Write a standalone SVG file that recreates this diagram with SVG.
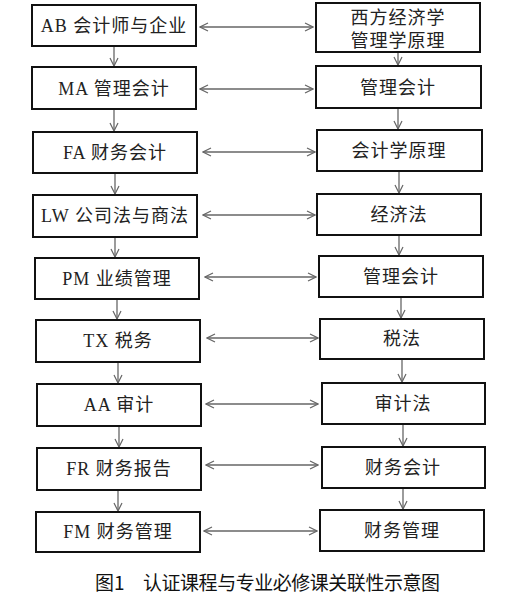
<svg xmlns="http://www.w3.org/2000/svg" width="516" height="601" viewBox="0 0 516 601">
<style>
.box{fill:#fff;stroke:#111;stroke-width:2}
.t{font-family:"Liberation Serif","Noto Sans CJK SC",serif;font-size:18px;letter-spacing:1px;fill:#222;text-anchor:middle}
.c{stroke:#666;stroke-width:1.3;fill:none}
.cap{font-family:"Noto Sans CJK SC",sans-serif;font-size:19px;fill:#111;font-weight:normal}
</style>
<defs>
<marker id="ah" viewBox="0 0 10 10" refX="9" refY="5" markerWidth="10" markerHeight="10" markerUnits="userSpaceOnUse" orient="auto-start-reverse">
<path d="M1,1 L9,5 L1,9" fill="none" stroke="#666" stroke-width="1.2"/>
</marker>
</defs>
<rect width="516" height="601" fill="#fff"/>
<g id="connectors">
<line class="c" x1="200" y1="27" x2="313" y2="27" marker-start="url(#ah)" marker-end="url(#ah)"/>
<line class="c" x1="200" y1="89" x2="313" y2="89" marker-start="url(#ah)" marker-end="url(#ah)"/>
<line class="c" x1="203" y1="152" x2="315" y2="152" marker-start="url(#ah)" marker-end="url(#ah)"/>
<line class="c" x1="203" y1="215" x2="315" y2="215" marker-start="url(#ah)" marker-end="url(#ah)"/>
<line class="c" x1="205" y1="277" x2="316" y2="277" marker-start="url(#ah)" marker-end="url(#ah)"/>
<line class="c" x1="207" y1="338" x2="318" y2="338" marker-start="url(#ah)" marker-end="url(#ah)"/>
<line class="c" x1="206" y1="404" x2="318" y2="404" marker-start="url(#ah)" marker-end="url(#ah)"/>
<line class="c" x1="206" y1="465" x2="318" y2="465" marker-start="url(#ah)" marker-end="url(#ah)"/>
<line class="c" x1="204" y1="531" x2="317" y2="531" marker-start="url(#ah)" marker-end="url(#ah)"/>
<line class="c" x1="114" y1="47" x2="114" y2="66" marker-end="url(#ah)"/>
<line class="c" x1="114" y1="110" x2="114" y2="131" marker-end="url(#ah)"/>
<line class="c" x1="115" y1="174" x2="115" y2="194" marker-end="url(#ah)"/>
<line class="c" x1="115" y1="238" x2="115" y2="257" marker-end="url(#ah)"/>
<line class="c" x1="117" y1="300" x2="117" y2="319" marker-end="url(#ah)"/>
<line class="c" x1="118" y1="363" x2="118" y2="383" marker-end="url(#ah)"/>
<line class="c" x1="119" y1="427" x2="119" y2="447" marker-end="url(#ah)"/>
<line class="c" x1="118" y1="491" x2="118" y2="511" marker-end="url(#ah)"/>
<line class="c" x1="398" y1="53" x2="398" y2="65" marker-end="url(#ah)"/>
<line class="c" x1="398" y1="109" x2="398" y2="129" marker-end="url(#ah)"/>
<line class="c" x1="399" y1="172" x2="399" y2="193" marker-end="url(#ah)"/>
<line class="c" x1="399" y1="236" x2="399" y2="255" marker-end="url(#ah)"/>
<line class="c" x1="401" y1="298" x2="401" y2="318" marker-end="url(#ah)"/>
<line class="c" x1="402" y1="360" x2="402" y2="382" marker-end="url(#ah)"/>
<line class="c" x1="403" y1="425" x2="403" y2="446" marker-end="url(#ah)"/>
<line class="c" x1="403" y1="489" x2="403" y2="509" marker-end="url(#ah)"/>
</g>
<g id="ab"><rect class="box" x="32" y="5" width="164" height="41"/><text class="t" x="114" y="32">AB 会计师与企业</text></g>
<g id="ma"><rect class="box" x="32" y="67" width="164" height="42"/><text class="t" x="114" y="95">MA 管理会计</text></g>
<g id="fa"><rect class="box" x="33" y="132" width="164" height="41"/><text class="t" x="115" y="159">FA 财务会计</text></g>
<g id="lw"><rect class="box" x="33" y="195" width="164" height="42"/><text class="t" x="115" y="222">LW 公司法与商法</text></g>
<g id="pm"><rect class="box" x="35" y="258" width="164" height="41"/><text class="t" x="117" y="285">PM 业绩管理</text></g>
<g id="tx"><rect class="box" x="36" y="320" width="164" height="42"/><text class="t" x="118" y="347">TX 税务</text></g>
<g id="aa"><rect class="box" x="37" y="384" width="164" height="42"/><text class="t" x="119" y="411">AA 审计</text></g>
<g id="fr"><rect class="box" x="37" y="448" width="164" height="42"/><text class="t" x="119" y="475">FR 财务报告</text></g>
<g id="fm"><rect class="box" x="36" y="512" width="164" height="40"/><text class="t" x="118" y="538">FM 财务管理</text></g>
<g id="xf"><rect class="box" x="316" y="3" width="164" height="49"/><text class="t" x="398" y="24">西方经济学</text><text class="t" x="398" y="47">管理学原理</text></g>
<g id="glkj"><rect class="box" x="316" y="66" width="165" height="42"/><text class="t" x="398" y="94">管理会计</text></g>
<g id="kjxyl"><rect class="box" x="317" y="130" width="165" height="41"/><text class="t" x="399" y="157">会计学原理</text></g>
<g id="jjf"><rect class="box" x="317" y="194" width="164" height="41"/><text class="t" x="399" y="221">经济法</text></g>
<g id="glkj2"><rect class="box" x="319" y="256" width="164" height="41"/><text class="t" x="401" y="283">管理会计</text></g>
<g id="sf"><rect class="box" x="320" y="319" width="164" height="40"/><text class="t" x="402" y="345">税法</text></g>
<g id="sjf"><rect class="box" x="322" y="383" width="163" height="41"/><text class="t" x="403" y="410">审计法</text></g>
<g id="cwkj"><rect class="box" x="322" y="447" width="163" height="41"/><text class="t" x="403" y="474">财务会计</text></g>
<g id="cwgl"><rect class="box" x="320" y="510" width="164" height="41"/><text class="t" x="402" y="537">财务管理</text></g>
<text class="cap" x="95" y="590">图1</text>
<text class="cap" x="143" y="590" textLength="297" lengthAdjust="spacing">认证课程与专业必修课关联性示意图</text>
</svg>
